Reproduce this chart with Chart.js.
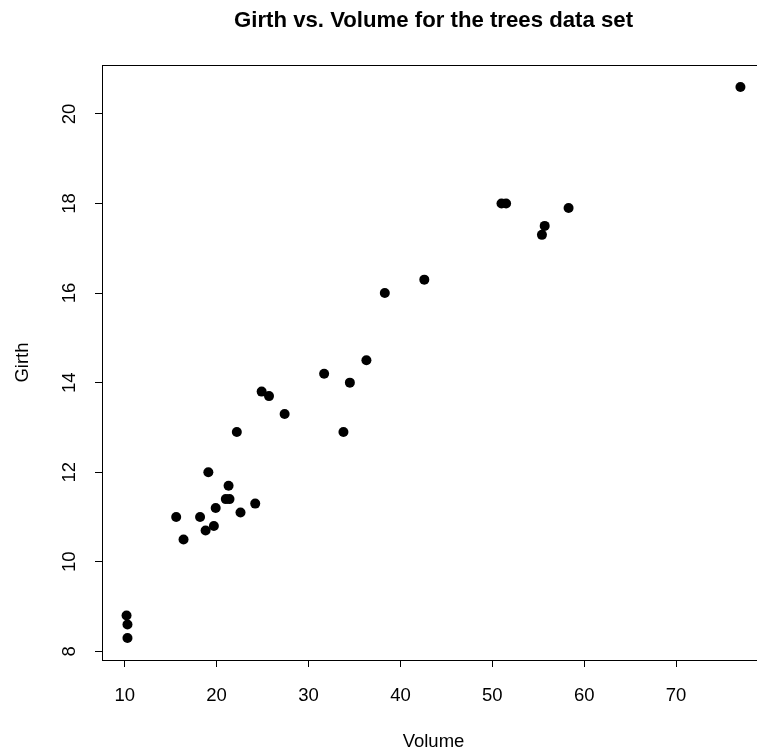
<!DOCTYPE html>
<html>
<head>
<meta charset="utf-8">
<script src="https://cdn.jsdelivr.net/npm/chart.js@4/dist/chart.umd.min.js"></script>
<style>
  html, body { margin: 0; padding: 0; background: #fff; overflow: hidden; }
  #wrap { width: 800px; height: 753px; }
</style>
</head>
<body>
<div id="wrap"><canvas id="c"></canvas></div>
<script>
// trees data set
const volume = [10.3, 10.3, 10.2, 16.4, 18.8, 19.7, 15.6, 18.2, 22.6, 19.9, 24.2, 21.0, 21.4, 21.3, 19.1, 22.2,
  33.8, 27.4, 25.7, 24.9, 34.5, 31.7, 36.3, 38.3, 42.6, 55.4, 55.7, 58.3, 51.5, 51.0, 77.0];
const girth = [8.3, 8.6, 8.8, 10.5, 10.7, 10.8, 11.0, 11.0, 11.1, 11.2, 11.3, 11.4, 11.4, 11.7, 12.0, 12.9,
  12.9, 13.3, 13.7, 13.8, 14.0, 14.2, 14.5, 16.0, 16.3, 17.3, 17.5, 17.9, 18.0, 18.0, 20.6];
const xTicks = [10, 20, 30, 40, 50, 60, 70];
const yTicks = [8, 10, 12, 14, 16, 18, 20];
const title = 'Girth vs. Volume for the trees data set';
const xTitle = 'Volume';
const yTitle = 'Girth';

// R style 4% range extension
const ext = (arr) => {
  const lo = Math.min(...arr), hi = Math.max(...arr), d = (hi - lo) * 0.04;
  return [lo - d, hi + d];
};
const [xMin, xMax] = ext(volume);
const [yMin, yMax] = ext(girth);

const FONT = "'Liberation Sans', Arial, Helvetica, sans-serif";

const rText = {
  id: 'rText',
  afterDraw(chart) {
    const { ctx, chartArea: a, scales: { x, y } } = chart;
    const cx = (a.left + a.right) / 2, cy = (a.top + a.bottom) / 2;
    ctx.save();
    ctx.strokeStyle = '#000';
    ctx.lineWidth = 1;
    ctx.strokeRect(Math.round(a.left) + 0.5, Math.round(a.top) + 0.5,
      Math.round(a.right - a.left), Math.round(a.bottom - a.top));

    ctx.fillStyle = '#000';
    ctx.textAlign = 'center';
    ctx.textBaseline = 'alphabetic';
    ctx.font = '18.5px ' + FONT;
    xTicks.forEach(v => ctx.fillText(String(v), x.getPixelForValue(v), 701));
    yTicks.forEach(v => {
      ctx.save();
      ctx.translate(75, y.getPixelForValue(v));
      ctx.rotate(-Math.PI / 2);
      ctx.fillText(String(v), 0, 0);
      ctx.restore();
    });
    ctx.fillText(xTitle, cx, 747);
    ctx.save();
    ctx.translate(28, cy);
    ctx.rotate(-Math.PI / 2);
    ctx.fillText(yTitle, 0, 0);
    ctx.restore();

    ctx.font = 'bold 22.2px ' + FONT;
    ctx.fillText(title, cx, 27);
    ctx.restore();
  }
};

const axisOpts = (min, max, ticks) => ({
  type: 'linear',
  min, max,
  afterBuildTicks: s => { s.ticks = ticks.map(v => ({ value: v })); },
  grid: { display: true, drawOnChartArea: false, drawTicks: true, tickLength: 7, color: '#000', lineWidth: 1 },
  border: { display: true, color: '#000', width: 1 },
  ticks: { display: false }
});

new Chart(document.getElementById('c'), {
  type: 'scatter',
  data: {
    datasets: [{
      data: volume.map((v, i) => ({ x: v, y: girth[i] })),
      backgroundColor: '#000',
      borderWidth: 0,
      pointRadius: 5
    }]
  },
  options: {
    responsive: true,
    maintainAspectRatio: false,
    animation: false,
    layout: { padding: { left: 95, top: 65, right: 35, bottom: 86 } },
    plugins: { legend: { display: false }, tooltip: { enabled: false } },
    scales: {
      x: axisOpts(xMin, xMax, xTicks),
      y: axisOpts(yMin, yMax, yTicks)
    }
  },
  plugins: [rText]
});
</script>
</body>
</html>
